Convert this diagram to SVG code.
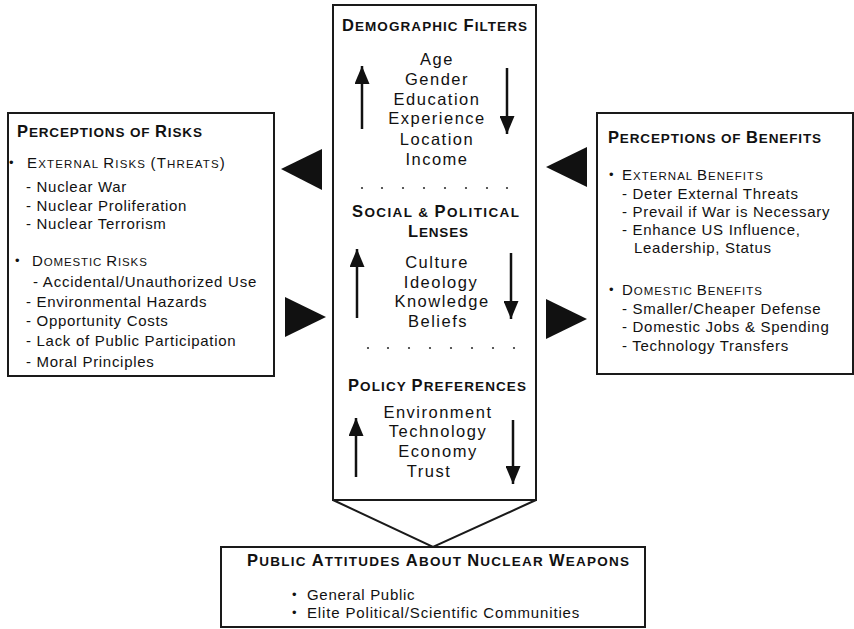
<svg xmlns="http://www.w3.org/2000/svg" width="854" height="629" viewBox="0 0 854 629">
<style>
text{font-family:"Liberation Sans",Arial,sans-serif;fill:#111}
.box{fill:#fff;stroke:#1a1a1a;stroke-width:2}
.ttl{font-weight:bold;font-size:13.5px;letter-spacing:1px}
.ttl .B{font-size:16.5px}
.sub{font-size:11.5px;letter-spacing:1.2px}
.sub .B{font-size:15px}
.bul{font-size:13px}
.it{font-size:15px;letter-spacing:0.7px}
.ct{font-size:16.5px;letter-spacing:1.5px;text-anchor:middle}
.ctt{font-weight:bold;font-size:13.5px;letter-spacing:1px}
.ctt .B{font-size:16.5px}
.tri{fill:#111}
.arr{stroke:#111;stroke-width:2.5;fill:none;marker-end:url(#ah)}
.dot{fill:#333}
</style>
<defs>
<marker id="ah" markerUnits="userSpaceOnUse" markerWidth="18" markerHeight="15" refX="18" refY="7.5" orient="auto">
<path d="M0,0 L18,7.5 L0,15 z" fill="#111"/>
</marker>
</defs>
<rect width="854" height="629" fill="#fff"/>

<g id="center">
<path class="box" d="M333,5 H536 V500 H333 Z"/>
<text class="ctt" x="342" y="31" textLength="186" lengthAdjust="spacing"><tspan class="B">D</tspan>EMOGRAPHIC <tspan class="B">F</tspan>ILTERS</text>
<text class="ct" x="437" y="65">Age</text>
<text class="ct" x="437" y="85">Gender</text>
<text class="ct" x="437" y="105">Education</text>
<text class="ct" x="437" y="124">Experience</text>
<text class="ct" x="437" y="145">Location</text>
<text class="ct" x="437" y="165">Income</text>
<line class="arr" x1="362" y1="129" x2="362" y2="66"/>
<line class="arr" x1="507" y1="68" x2="507" y2="134"/>
<g class="dot">
<circle cx="362" cy="188" r="1.1"/><circle cx="382" cy="188" r="1.1"/><circle cx="403" cy="188" r="1.1"/><circle cx="424" cy="188" r="1.1"/><circle cx="445" cy="188" r="1.1"/><circle cx="466" cy="188" r="1.1"/><circle cx="487" cy="188" r="1.1"/><circle cx="507" cy="188" r="1.1"/>
</g>
<text class="ctt" x="352" y="217" textLength="168" lengthAdjust="spacing"><tspan class="B">S</tspan>OCIAL &amp; <tspan class="B">P</tspan>OLITICAL</text>
<text class="ctt" x="408" y="237" textLength="61" lengthAdjust="spacing"><tspan class="B">L</tspan>ENSES</text>
<text class="ct" x="437" y="268">Culture</text>
<text class="ct" x="441" y="288">Ideology</text>
<text class="ct" x="442" y="307">Knowledge</text>
<text class="ct" x="438" y="327">Beliefs</text>
<line class="arr" x1="357" y1="318" x2="357" y2="249"/>
<line class="arr" x1="511" y1="253" x2="511" y2="319"/>
<g class="dot">
<circle cx="368" cy="348" r="1.1"/><circle cx="388" cy="348" r="1.1"/><circle cx="409" cy="348" r="1.1"/><circle cx="430" cy="348" r="1.1"/><circle cx="451" cy="348" r="1.1"/><circle cx="472" cy="348" r="1.1"/><circle cx="493" cy="348" r="1.1"/><circle cx="514" cy="348" r="1.1"/>
</g>
<text class="ctt" x="348" y="391" textLength="179" lengthAdjust="spacing"><tspan class="B">P</tspan>OLICY <tspan class="B">P</tspan>REFERENCES</text>
<text class="ct" x="438" y="418">Environment</text>
<text class="ct" x="438" y="437">Technology</text>
<text class="ct" x="438" y="457">Economy</text>
<text class="ct" x="429" y="477">Trust</text>
<line class="arr" x1="356" y1="477" x2="356" y2="418"/>
<line class="arr" x1="513" y1="420" x2="513" y2="484"/>
</g>

<g id="risks">
<rect class="box" x="8" y="113" width="266" height="263"/>
<text class="ttl" x="17" y="137" textLength="186" lengthAdjust="spacing"><tspan class="B">P</tspan>ERCEPTIONS OF <tspan class="B">R</tspan>ISKS</text>
<text class="bul" x="9" y="167">•</text>
<text class="sub" x="27" y="168" textLength="199" lengthAdjust="spacing"><tspan class="B">E</tspan>XTERNAL <tspan class="B">R</tspan>ISKS <tspan class="B">(T</tspan>HREATS<tspan class="B">)</tspan></text>
<text class="it" x="26" y="192">- Nuclear War</text>
<text class="it" x="26" y="211">- Nuclear Proliferation</text>
<text class="it" x="26" y="229">- Nuclear Terrorism</text>
<text class="bul" x="15" y="265">•</text>
<text class="sub" x="32" y="266" textLength="116" lengthAdjust="spacing"><tspan class="B">D</tspan>OMESTIC <tspan class="B">R</tspan>ISKS</text>
<text class="it" x="33" y="287" textLength="224" lengthAdjust="spacing">- Accidental/Unauthorized Use</text>
<text class="it" x="26" y="307">- Environmental Hazards</text>
<text class="it" x="26" y="326">- Opportunity Costs</text>
<text class="it" x="26" y="346">- Lack of Public Participation</text>
<text class="it" x="26" y="367">- Moral Principles</text>
</g>

<g id="benefits">
<rect class="box" x="597" y="113" width="256" height="261"/>
<text class="ttl" x="608" y="143" textLength="214" lengthAdjust="spacing"><tspan class="B">P</tspan>ERCEPTIONS OF <tspan class="B">B</tspan>ENEFITS</text>
<text class="bul" x="609" y="179">•</text>
<text class="sub" x="622" y="180" textLength="142" lengthAdjust="spacing"><tspan class="B">E</tspan>XTERNAL <tspan class="B">B</tspan>ENEFITS</text>
<text class="it" x="622" y="199">- Deter External Threats</text>
<text class="it" x="622" y="217">- Prevail if War is Necessary</text>
<text class="it" x="622" y="235">- Enhance US Influence,</text>
<text class="it" x="634" y="253">Leadership, Status</text>
<text class="bul" x="609" y="294">•</text>
<text class="sub" x="622" y="295" textLength="141" lengthAdjust="spacing"><tspan class="B">D</tspan>OMESTIC <tspan class="B">B</tspan>ENEFITS</text>
<text class="it" x="622" y="314">- Smaller/Cheaper Defense</text>
<text class="it" x="622" y="332">- Domestic Jobs &amp; Spending</text>
<text class="it" x="622" y="351">- Technology Transfers</text>
</g>

<g id="attitudes">
<rect class="box" x="221" y="547" width="424" height="80"/>
<text class="ttl" x="247" y="566" textLength="383" lengthAdjust="spacing"><tspan class="B">P</tspan>UBLIC <tspan class="B">A</tspan>TTITUDES <tspan class="B">A</tspan>BOUT <tspan class="B">N</tspan>UCLEAR <tspan class="B">W</tspan>EAPONS</text>
<text class="bul" x="292" y="599">•</text>
<text class="it" x="307" y="600">General Public</text>
<text class="bul" x="292" y="617">•</text>
<text class="it" x="307" y="618" textLength="273" lengthAdjust="spacing">Elite Political/Scientific Communities</text>
</g>

<g id="connectors">
<polygon class="tri" points="281,169 322,149 322,190"/>
<polygon class="tri" points="285,297 285,337 326,317"/>
<polygon class="tri" points="546,167 587,147 587,187"/>
<polygon class="tri" points="546,299 546,339 587,319"/>
<path d="M333,500 L433,547 L536,500" fill="none" stroke="#1a1a1a" stroke-width="2"/>
</g>
</svg>
